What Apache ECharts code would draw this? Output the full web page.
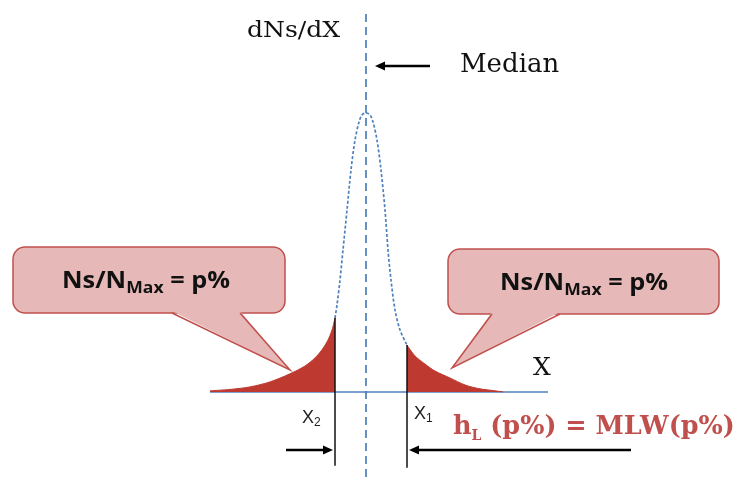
<!DOCTYPE html>
<html>
<head>
<meta charset="utf-8">
<script src="https://cdn.jsdelivr.net/npm/echarts@6/dist/echarts.min.js"></script>
<style>
html,body{margin:0;padding:0;background:#fff;}
#chart{width:739px;height:477px;}
</style>
</head>
<body>
<div id="chart"></div>
<script>
// Distribution curve dNs/dX (x: offset from median, y: % of N max)
const curveX = [-15.6,-13.6,-11.6,-9.6,-7.6,-6.1,-5.1,-4.4,-3.8,-3.4,-3.1,-2.9,-2.6,-2.3,-1.9,-1.5,-1.1,-0.7,-0.4,0,0.4,0.7,1.1,1.5,1.9,2.2,2.5,2.9,3.4,4.1,4.9,5.9,6.9,8.4,9.9,11.4,12.9,13.7];
const curveY = [0.4,0.9,1.8,3.6,6.5,9.3,12.2,15.1,18.6,22.2,26.5,31.2,40.1,50.9,65.2,79.6,90.3,96.8,99.3,100,99.3,96.8,90.3,79.6,65.2,50.9,40.1,29.4,22.2,16.8,12.9,10.0,7.5,5.0,2.5,1.1,0.4,0];
const cutX2 = -3.1;   // left cut-off
const cutX1 = 4.1;    // right cut-off
const medianX = 0;
const axisStart = -15.6, axisEnd = 18.2;
const medianTop = 135.5, lineBottom = -30.5;
const cutBottomX2 = -26.5, cutBottomX1 = -27.2;

const pts = curveX.map((x, i) => [x, curveY[i]]);
const leftTail = pts.filter(p => p[0] <= cutX2);
const center = pts.filter(p => p[0] >= cutX2 && p[0] <= cutX1);
const rightTail = pts.filter(p => p[0] >= cutX1);
const yAt = x => curveY[curveX.indexOf(x)];

const RED = '#be3a30';
const BLUE = '#4f81bd';
const PINK = '#e6b9b8';
const PINK_STROKE = '#c0504d';

const chart = echarts.init(document.getElementById('chart'));

function callout(x, y, w, h, b1, b2, tip, cx, cy) {
  const bottom = y + h;
  return [
    { type: 'rect', shape: { x: x, y: y, width: w, height: h, r: 12 },
      style: { fill: PINK, stroke: PINK_STROKE, lineWidth: 1.5 }, z: 10 },
    { type: 'polygon', shape: { points: [[b1, bottom - 2], tip, [b2, bottom - 2]] },
      style: { fill: PINK, stroke: null }, z: 11 },
    { type: 'polyline', shape: { points: [[b1, bottom], tip, [b2, bottom]] },
      style: { fill: null, stroke: PINK_STROKE, lineWidth: 1.5 }, z: 12 },
    { type: 'text', z: 13, x: cx, y: cy, scaleX: 1.1,
      style: {
        text: '{a|Ns/N}{b|Max}{a| = p%}',
        align: 'center', verticalAlign: 'middle',
        rich: {
          a: { fontFamily: 'Open Sans', fontWeight: 'bold', fontSize: 23, lineHeight: 30, fill: '#111', verticalAlign: 'middle' },
          b: { fontFamily: 'Open Sans', fontWeight: 'bold', fontSize: 16, lineHeight: 15, fill: '#111', verticalAlign: 'bottom' }
        }
      } }
  ];
}

function arrow(x1, y1, x2, y2, w) {
  const dir = x2 > x1 ? 1 : -1;
  const hl = 10, hw = 4.5;
  return [
    { type: 'line', shape: { x1: x1, y1: y1, x2: x2 - dir * hl * 0.8, y2: y2 },
      style: { stroke: '#000', lineWidth: w } },
    { type: 'polygon', shape: { points: [[x2, y2], [x2 - dir * hl, y2 - hw], [x2 - dir * hl, y2 + hw]] },
      style: { fill: '#000' } }
  ];
}

const graphics = [].concat(
  callout(13, 247, 272, 66, 172, 240, [290, 370], 146, 281),
  callout(448, 249, 271, 65, 492, 560, [452, 368], 584, 283),
  arrow(430, 66, 375, 66, 2.5),
  arrow(286, 450, 333, 450, 2.5),
  arrow(631, 450, 409, 450, 2.5),
  [
    { type: 'text', x: 247, y: 31, scaleX: 1.09, style: { text: 'dNs/dX', fontFamily: 'DejaVu Serif', fontSize: 23, fill: '#111', verticalAlign: 'middle' } },
    { type: 'text', x: 460, y: 65, style: { text: 'Median', fontFamily: 'DejaVu Serif', fontSize: 26, fill: '#111', verticalAlign: 'middle' } },
    { type: 'text', x: 533, y: 368, style: { text: 'X', fontFamily: 'DejaVu Serif', fontSize: 25, fill: '#111', verticalAlign: 'middle' } },
    { type: 'text', x: 302, y: 418, style: { text: '{a|X}{b|2}', verticalAlign: 'middle',
      rich: { a: { fontFamily: 'Liberation Sans', fontSize: 18, lineHeight: 22, fill: '#222', verticalAlign: 'middle' },
              b: { fontFamily: 'Liberation Sans', fontSize: 12, lineHeight: 12, fill: '#222', verticalAlign: 'bottom' } } } },
    { type: 'text', x: 414, y: 414, style: { text: '{a|X}{b|1}', verticalAlign: 'middle',
      rich: { a: { fontFamily: 'Liberation Sans', fontSize: 18, lineHeight: 22, fill: '#222', verticalAlign: 'middle' },
              b: { fontFamily: 'Liberation Sans', fontSize: 12, lineHeight: 12, fill: '#222', verticalAlign: 'bottom' } } } },
    { type: 'text', x: 453, y: 427, style: { text: '{a|h}{b|L}{a| (p%) = MLW(p%)}', verticalAlign: 'middle',
      rich: { a: { fontFamily: 'DejaVu Serif', fontWeight: 'bold', fontSize: 25.5, lineHeight: 32, fill: PINK_STROKE, verticalAlign: 'middle' },
              b: { fontFamily: 'DejaVu Serif', fontWeight: 'bold', fontSize: 14, lineHeight: 14, fill: PINK_STROKE, verticalAlign: 'bottom' } } } }
  ]
);

const option = {
  animation: false,
  grid: { left: 0, right: 0, top: 0, bottom: 0 },
  xAxis: { type: 'value', min: -36.6, max: 37.3, show: false },
  yAxis: { type: 'value', min: lineBottom, max: 140.5, show: false },
  series: [
    { type: 'line', data: [[axisStart, 0], [axisEnd, 0]], symbol: 'none',
      lineStyle: { color: BLUE, width: 1.5 }, z: 1 },
    { type: 'line', data: leftTail, symbol: 'none', smooth: 0.3,
      lineStyle: { color: RED, width: 1 }, areaStyle: { color: RED, opacity: 1 }, z: 2 },
    { type: 'line', data: rightTail, symbol: 'none', smooth: 0.3,
      lineStyle: { color: RED, width: 1 }, areaStyle: { color: RED, opacity: 1 }, z: 2 },
    { type: 'line', data: center, symbol: 'none', smooth: 0.3,
      lineStyle: { color: BLUE, width: 1.7, type: [3, 2] }, z: 3 },
    { type: 'line', data: [[medianX, medianTop], [medianX, lineBottom]], symbol: 'none',
      lineStyle: { color: '#3f77b5', width: 1.6, type: [8, 5] }, z: 4 },
    { type: 'line', data: [[cutX2, yAt(cutX2)], [cutX2, cutBottomX2]], symbol: 'none',
      lineStyle: { color: '#111', width: 1.5 }, z: 5 },
    { type: 'line', data: [[cutX1, yAt(cutX1)], [cutX1, cutBottomX1]], symbol: 'none',
      lineStyle: { color: '#111', width: 1.5 }, z: 5 }
  ],
  graphic: graphics
};
chart.setOption(option);
</script>
</body>
</html>
